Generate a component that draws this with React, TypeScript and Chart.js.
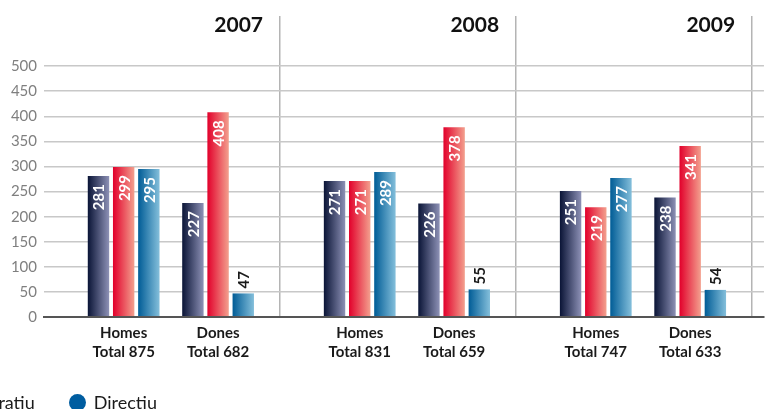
import React, { useEffect, useRef } from "react";
import { Chart, registerables } from "chart.js";

Chart.register(...registerables);

const years = ["2007", "2008", "2009"];
const genders = ["Homes", "Dones"];
const seriesNames = ["Tècnic", "Administratiu", "Directiu"];
// values per year: [Homes, Dones]
const tecnic = [281, 227, 271, 226, 251, 238];
const administratiu = [299, 408, 271, 378, 219, 341];
const directiu = [295, 47, 289, 55, 277, 54];
const yTicks = [0, 50, 100, 150, 200, 250, 300, 350, 400, 450, 500];

const gradients = [
  ["#0a1436", "#8d91b6"],
  ["#e2002b", "#f3a08e"],
  ["#005c96", "#84bfdb"],
];
const legendColors = ["#1c2550", "#e4203a", "#005da0"];

// layout of category slots (40 per year, plus 2 trailing)
const SLOTS_PER_YEAR = 40;
const GENDER_SLOT = [13, 29];
const TOTAL_SLOTS = SLOTS_PER_YEAR * years.length + 2;

function buildSeries(values: number[]) {
  const arr: (number | null)[] = new Array(TOTAL_SLOTS).fill(null);
  years.forEach((_, y) =>
    genders.forEach((_, g) => {
      arr[y * SLOTS_PER_YEAR + GENDER_SLOT[g]] = values[y * 2 + g];
    })
  );
  return arr;
}

function buildLabels() {
  const arr: (string | string[])[] = new Array(TOTAL_SLOTS).fill("");
  years.forEach((_, y) =>
    genders.forEach((gname, g) => {
      const i = y * 2 + g;
      const total = tecnic[i] + administratiu[i] + directiu[i];
      arr[y * SLOTS_PER_YEAR + GENDER_SLOT[g]] = [gname, "Total " + total];
    })
  );
  return arr;
}

const FONT = "Lato, 'Open Sans', sans-serif";

const gradientPlugin = {
  id: "barGradients",
  beforeDatasetDraw(chart: any, args: any) {
    const meta = args.meta;
    const ctx = chart.ctx;
    const cols = gradients[args.index];
    meta.data.forEach((el: any) => {
      const { x, width } = el.getProps(["x", "width"], true);
      if (!isFinite(x) || !isFinite(width)) return;
      const g = ctx.createLinearGradient(x - width / 2, 0, x + width / 2, 0);
      g.addColorStop(0, cols[0]);
      g.addColorStop(1, cols[1]);
      el.options = Object.assign({}, el.options, { backgroundColor: g });
    });
  },
};

const labelsPlugin = {
  id: "barLabels",
  afterDatasetsDraw(chart: any) {
    const ctx = chart.ctx;
    ctx.save();
    ctx.font = `bold 15px ${FONT}`;
    ctx.textBaseline = "middle";
    chart.data.datasets.forEach((ds: any, di: number) => {
      const meta = chart.getDatasetMeta(di);
      meta.data.forEach((el: any, i: number) => {
        const v = ds.data[i];
        if (v == null) return;
        const { x, y, base } = el.getProps(["x", "y", "base"], true);
        const inside = base - y > 60;
        ctx.save();
        if (inside) {
          ctx.translate(x + 1, y + 8);
          ctx.rotate(-Math.PI / 2);
          ctx.textAlign = "right";
          ctx.fillStyle = "#ffffff";
        } else {
          ctx.translate(x + 1, y - 5);
          ctx.rotate(-Math.PI / 2);
          ctx.textAlign = "left";
          ctx.fillStyle = "#1a1a1a";
        }
        ctx.fillText(String(v), 0, 0);
        ctx.restore();
      });
    });
    ctx.restore();
  },
};

const yearPlugin = {
  id: "yearLabels",
  afterDraw(chart: any) {
    const ctx = chart.ctx;
    const xs = chart.scales.x;
    ctx.save();
    ctx.font = `bold 21px ${FONT}`;
    ctx.fillStyle = "#111";
    ctx.textAlign = "right";
    ctx.textBaseline = "alphabetic";
    years.forEach((yr, y) => {
      const sepIndex = (y + 1) * SLOTS_PER_YEAR;
      const half = (xs.getPixelForValue(1) - xs.getPixelForValue(0)) / 2;
      const sepX = xs.getPixelForValue(sepIndex) - half;
      ctx.fillText(yr, sepX - 17, 32);
    });
    ctx.restore();
  },
};

export default function App() {
  const ref = useRef<HTMLCanvasElement | null>(null);
  useEffect(() => {
    if (!ref.current) return;
    const chart = new Chart(ref.current, {
      type: "bar",
      data: {
        labels: buildLabels(),
        datasets: [tecnic, administratiu, directiu].map((vals, i) => ({
          label: seriesNames[i],
          data: buildSeries(vals),
          backgroundColor: gradients[i][0],
          borderWidth: 0,
          categoryPercentage: 12.8,
          barPercentage: 0.85,
        })),
      },
      options: {
        animation: false,
        responsive: false,
        maintainAspectRatio: false,
        layout: { padding: { top: 14, left: 0, right: 0, bottom: 0 } },
        plugins: {
          legend: { display: false },
          tooltip: { enabled: false },
        },
        scales: {
          x: {
            offset: true,
            grid: {
              offset: true,
              drawTicks: false,
              color: (c: any) =>
                c.index > 0 && c.index % SLOTS_PER_YEAR === 0 ? "#b4b4b4" : "rgba(0,0,0,0)",
              lineWidth: 1.5,
            },
            border: { display: true, color: "#555555", width: 2 },
            ticks: {
              autoSkip: false,
              maxRotation: 0,
              minRotation: 0,
              padding: 7,
              color: "#1a1a1a",
              font: { family: FONT, size: 15, weight: "bold", lineHeight: 1.27 },
            },
            afterFit: (s: any) => {
              s.height = 92;
            },
          },
          y: {
            min: 0,
            max: 600,
            border: { display: false },
            grid: {
              drawTicks: false,
              color: (c: any) =>
                c.tick && c.tick.value === 0
                  ? "#555555"
                  : c.tick && c.tick.value > 500
                  ? "rgba(0,0,0,0)"
                  : "#c8c8c8",
              lineWidth: (c: any) => (c.tick && c.tick.value === 0 ? 2 : 1.6),
            },
            ticks: {
              stepSize: 50,
              padding: 7,
              color: "#7f7f7f",
              font: { family: FONT, size: 15 },
              callback: (v: any) => (yTicks.includes(Number(v)) ? String(v) : ""),
            },
            afterFit: (s: any) => {
              s.width = 44;
            },
          },
        },
      },
      plugins: [gradientPlugin, labelsPlugin, yearPlugin],
    } as any);
    return () => chart.destroy();
  }, []);

  return (
    <div style={{ position: "absolute", left: 0, top: 0, width: 768, height: 409, overflow: "hidden", background: "#fff" }}>
      <canvas ref={ref} width={768} height={409} style={{ position: "absolute", left: 0, top: 0 }} />
      <div
        style={{
          position: "absolute",
          right: 768 - 157,
          top: 390,
          display: "flex",
          alignItems: "center",
          whiteSpace: "nowrap",
          fontFamily: FONT,
          fontSize: 18,
          color: "#1a1a1a",
          lineHeight: "24px",
        }}
      >
        {seriesNames.map((n, i) => (
          <span key={n} style={{ display: "inline-flex", alignItems: "center", marginLeft: i === 0 ? 0 : 34 }}>
            <span
              style={{
                display: "inline-block",
                width: 17,
                height: 17,
                borderRadius: "50%",
                background: legendColors[i],
                marginRight: 8,
              }}
            />
            {n}
          </span>
        ))}
      </div>
    </div>
  );
}
